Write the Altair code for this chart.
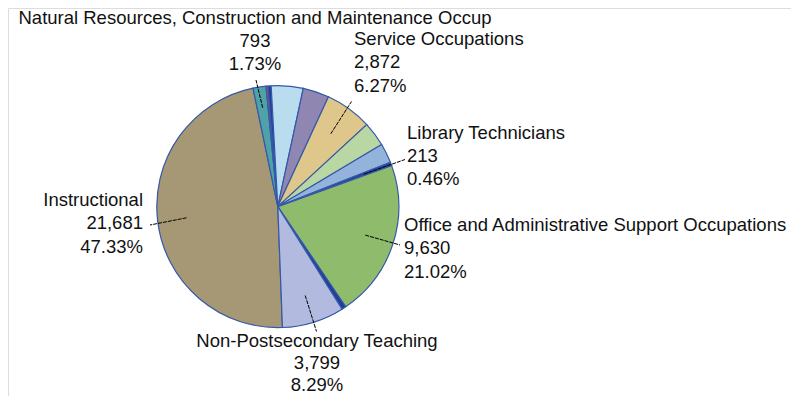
import math
import altair as alt
import pandas as pd

# ---------------- data ----------------
categories = [
    "Instructional",
    "Natural Resources, Construction and Maintenance Occup",
    "Production, Transportation and Material Moving",
    "Sales and Related Occupations",
    "Management Occupations",
    "Business and Financial Operations",
    "Service Occupations",
    "Computer, Engineering and Science",
    "Community Service, Legal, Arts and Media",
    "Library Technicians",
    "Office and Administrative Support Occupations",
    "Research",
    "Non-Postsecondary Teaching",
]
values = [21681, 793, 120, 190, 1950, 1600, 2872, 1500, 1200, 213, 9630, 262, 3799]
colors = [
    "#a69874", "#4fa3a8", "#c0504d", "#1f3f99", "#b9dcee", "#8f87b2",
    "#dfc68a", "#b8d7a3", "#93b3dd", "#1f3f99", "#8fbb6c", "#1f3f99", "#b3badf",
]

labeled = [
    "Natural Resources, Construction and Maintenance Occup",
    "Service Occupations",
    "Library Technicians",
    "Instructional",
    "Office and Administrative Support Occupations",
    "Non-Postsecondary Teaching",
]

# ---------------- layout (page pixel coordinates) ----------------
OFF = 8
W, H = 799 - 2 * OFF, 404 - 2 * OFF
CX, CY, R = 277.8 - OFF, 206.6 - OFF, 121
A0 = math.radians(177.8)

label_layout = {
    # cat: (text x, first baseline y, align, leader outer x, leader outer y, leader inner radius, line height)
    "Natural Resources, Construction and Maintenance Occup": (255, 23.5, "center", 256, 80, 100, 23.3),
    "Service Occupations": (354, 45, "left", 351.5, 101.5, 90, 23.3),
    "Library Technicians": (407, 138.5, "left", 405, 159.5, 92, 23.3),
    "Instructional": (143, 206, "right", 150, 225, 92, 23.3),
    "Office and Administrative Support Occupations": (404, 231, "left", 400, 245, 92, 23.3),
    "Non-Postsecondary Teaching": (317, 347, "center", 316.5, 331.5, 93, 22),
}

df = pd.DataFrame({"cat": categories, "value": values, "idx": list(range(len(categories)))})
lay = pd.DataFrame(
    {
        "cat": labeled,
        "tx": [label_layout[c][0] - OFF for c in labeled],
        "ty": [label_layout[c][1] - OFF for c in labeled],
        "al": [label_layout[c][2] for c in labeled],
        "ox": [label_layout[c][3] - OFF for c in labeled],
        "oy": [label_layout[c][4] - OFF for c in labeled],
        "rin": [label_layout[c][5] for c in labeled],
        "lh": [label_layout[c][6] for c in labeled],
    }
)

xs = alt.Scale(domain=[0, W], nice=False, zero=False)
ys = alt.Scale(domain=[0, H], nice=False, zero=False, reverse=True)
FONT = "Liberation Sans"
TXT = "#111111"

pie = (
    alt.Chart(df)
    .mark_arc(radius=R, stroke="#3558a8", strokeWidth=1.2)
    .encode(
        theta=alt.Theta("value:Q", stack=True, scale=alt.Scale(range=[A0, A0 + 2 * math.pi])),
        color=alt.Color("cat:N", scale=alt.Scale(domain=categories, range=colors), legend=None),
        order=alt.Order("idx:Q", sort="ascending"),
        x=alt.value(CX),
        y=alt.value(CY),
    )
)

base = (
    alt.Chart(df)
    .transform_window(cum="sum(value)", sort=[alt.SortField("idx", order="ascending")])
    .transform_joinaggregate(total="sum(value)")
    .transform_calculate(mid=f"{A0} + 2*PI*(datum.cum - datum.value/2)/datum.total")
    .transform_lookup(lookup="cat", from_=alt.LookupData(lay, "cat", ["tx", "ty", "al", "ox", "oy", "rin", "lh"]))
    .transform_filter("isValid(datum.tx)")
)

leaders = (
    base.transform_calculate(
        ix=f"{CX} + datum.rin*sin(datum.mid)",
        iy=f"{CY} - datum.rin*cos(datum.mid)",
    )
    .mark_rule(color="#000000", strokeWidth=1, strokeDash=[4, 1])
    .encode(
        x=alt.X("ix:Q", scale=xs, axis=None),
        y=alt.Y("iy:Q", scale=ys, axis=None),
        x2="ox:Q",
        y2="oy:Q",
    )
)

def text_layer(align, line_h, sel):
    return (
        base.transform_filter(f"datum.al == '{align}' && {sel}")
        .transform_calculate(
            lbl="[datum.cat, format(datum.value, ','), format(datum.value/datum.total, '.2%')]"
        )
        .mark_text(align=align, baseline="alphabetic", font=FONT, fontSize=18.5,
                   lineHeight=line_h, color=TXT)
        .encode(
            x=alt.X("tx:Q", scale=xs, axis=None),
            y=alt.Y("ty:Q", scale=ys, axis=None),
            text="lbl:N",
        )
    )

chart = (
    alt.layer(
        pie,
        leaders,
        text_layer("left", 23.3, "true"),
        text_layer("right", 23.3, "true"),
        text_layer("center", 23.3, "datum.lh > 22.5"),
        text_layer("center", 22, "datum.lh <= 22.5"),
    )
    .properties(width=W, height=H, padding=0, autosize=alt.AutoSizeParams(type="none"))
    .configure_view(stroke=None)
    .configure(background="white")
)

chart.save("out.html", embed_options={"renderer": "svg", "actions": False})
